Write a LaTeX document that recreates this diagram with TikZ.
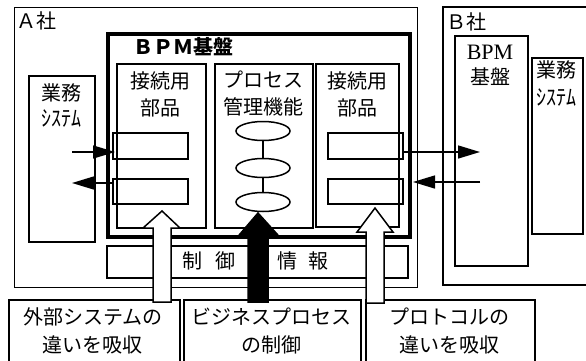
\documentclass[tikz,border=0pt]{standalone}
\usepackage{fontspec}
\setmainfont{Noto Sans CJK JP}
\newfontfamily\serifB{Liberation Serif}
\usetikzlibrary{arrows.meta,shapes.geometric}
\tikzset{
  box/.style={draw, line width=1.5pt, inner sep=0, anchor=north west},
  outer/.style={box, line width=1.3pt},
  txt/.style={inner sep=0, font=\fontsize{20}{27}\selectfont, align=center},
  sm/.style={inner sep=0, font=\fontsize{20}{20}\selectfont, yscale=1.1},
  arr/.style={line width=1.5pt, -{Triangle[length=22pt,width=13pt]}},
  blk/.style={draw, line width=1.5pt, line join=miter},
  ell/.style={draw, ellipse, line width=1.5pt, inner sep=0, minimum width=54pt, minimum height=19pt},
}
\begin{document}
\begin{tikzpicture}[x=1pt,y=-1pt]
\useasboundingbox (0,0) rectangle (586,360);
\clip (0,0) rectangle (586,360);
\fill[white] (0,0) rectangle (586,360);
% company A
\node[outer, minimum width=403pt, minimum height=280pt] (A) at (14,7) {};
\node[txt, anchor=west] (tA) at (16,21) {Ａ社};
\node[box, line width=3.5pt, minimum width=302pt, minimum height=203pt] (BPM) at (106,32) {};
\node[txt, font=\fontsize{20}{20}\selectfont\bfseries] (tBPM) at (183,47) {ＢＰＭ基盤};
\node[box, minimum width=89pt, minimum height=164pt] (LC) at (116,63) {};
\node[box, minimum width=98pt, minimum height=164pt] (PM) at (214,63) {};
\node[box, minimum width=83pt, minimum height=163pt] (RC) at (315,63) {};
\node[txt] (tLC) at (160,94) {接続用\\部品};
\node[txt] (tPM) at (263,94) {プロセス\\管理機能};
\node[txt] (tRC) at (357,94) {接続用\\部品};
\node[box, minimum width=75pt, minimum height=26pt] (L1) at (112,132) {};
\node[box, minimum width=75pt, minimum height=25pt] (L2) at (112,178) {};
\node[box, minimum width=75pt, minimum height=26pt] (R1) at (327,132) {};
\node[box, minimum width=75pt, minimum height=25pt] (R2) at (327,178) {};
\node[ell] (e1) at (263,131) {};
\node[ell] (e2) at (263,168) {};
\node[ell] (e3) at (263,202) {};
\draw[line width=1.5pt] (e1) -- (e2);
\draw[line width=1.5pt] (e2) -- (e3);
\node[box, minimum width=66pt, minimum height=166pt] (AS) at (28,75) {};
\node[txt] (tAS1) at (61,93) {業務};
\node[sm] (tAS2) at (61,118) {ｼｽﾃﾑ};
\node[box, minimum width=301pt, minimum height=32pt] (CI) at (106,245) {};
\node[txt] (tCI) at (255,261) {制\hspace{13pt}御\hspace{42pt}情\hspace{11pt}報};
% company B
\draw[line width=1.3pt] (600,7) -- (443,7) -- (443,285) -- (600,285);
\node[txt, anchor=west] (tB) at (446,22) {Ｂ社};
\node[box, minimum width=73pt, minimum height=230pt] (BB) at (454,35) {};
\node[inner sep=0, font=\serifB\fontsize{22}{22}\selectfont] (tBB1) at (490,52) {BPM};
\node[txt] (tBB2) at (490,77) {基盤};
\node[box, minimum width=51pt, minimum height=176pt] (BS) at (531,57) {};
\node[txt] (tBS1) at (556,70) {業務};
\node[sm] (tBS2) at (556,97) {ｼｽﾃﾑ};
% arrows
\coordinate (aL1) at (72,152);
\coordinate (aL2) at (72,183);
\coordinate (aR1) at (480,152);
\coordinate (aR2) at (480,182);
\draw[arr, shorten >=-3pt] (aL1) -- (aL1 -| L1.west);
\draw[arr] (aL2 -| L2.west) -- (aL2);
\draw[arr] (aR1 -| R1.east) -- (aR1);
\draw[arr, shorten >=1.5pt] (aR2) -- (aR2 -| BPM.east);
% bottom boxes
\node[box, minimum width=171pt, minimum height=80pt] (X1) at (8,299) {};
\node[box, minimum width=177pt, minimum height=80pt] (X2) at (183,299) {};
\node[box, minimum width=169pt, minimum height=80pt] (X3) at (365,299) {};
\node[txt, font=\fontsize{20}{28}\selectfont] (tX1) at (93,331) {外部システムの\\違いを吸収};
\node[txt, font=\fontsize{20}{28}\selectfont] (tX2) at (271,331) {ビジネスプロセス\\の制御};
\node[txt, font=\fontsize{20}{28}\selectfont] (tX3) at (449,331) {プロトコルの\\違いを吸収};
% block arrows
\draw[blk, fill=white] (153,302) -- (153,228) -- (143,228) -- (162,211) -- (180,228) -- (171,228) -- (171,302) -- cycle;
\draw[blk, fill=black] (248,302) -- (248,234) -- (240,234) -- (258,213) -- (277,234) -- (268,234) -- (268,302) -- cycle;
\draw[blk, fill=white] (366,303) -- (366,232) -- (357,232) -- (375,208) -- (393,232) -- (384,232) -- (384,303) -- cycle;
\end{tikzpicture}
\end{document}
